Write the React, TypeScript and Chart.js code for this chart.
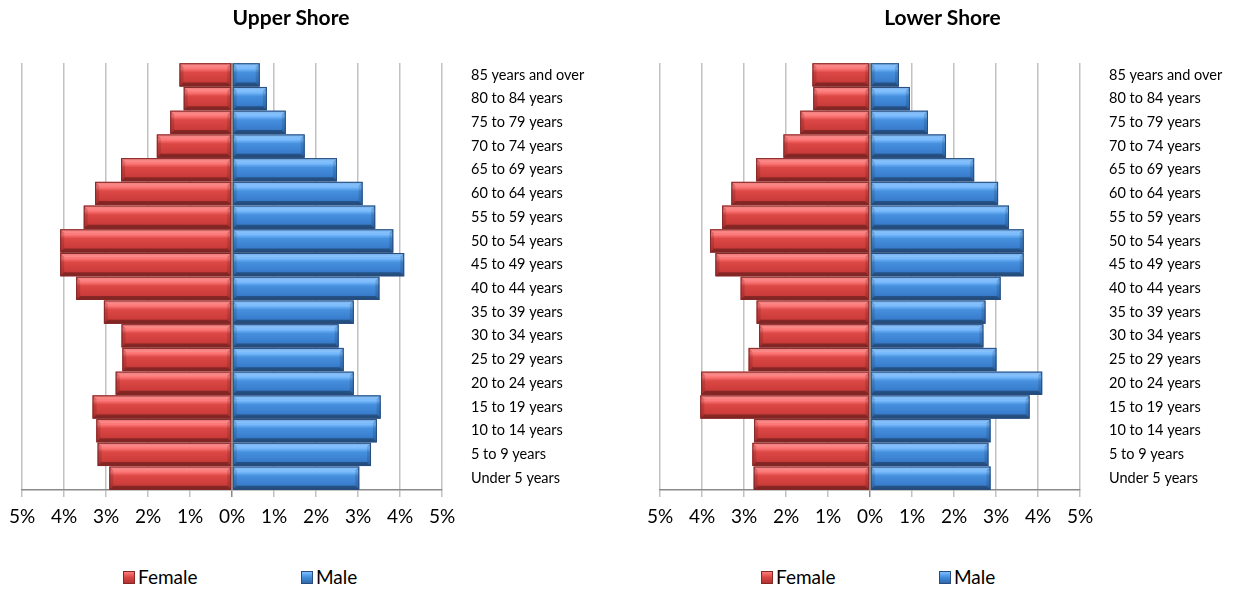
import React, { useEffect, useRef } from "react";
import { Chart, registerables } from "chart.js";

Chart.register(...registerables);

// ---- Data ----
const ageGroups = [
  "Under 5 years",
  "5 to 9 years",
  "10 to 14 years",
  "15 to 19 years",
  "20 to 24 years",
  "25 to 29 years",
  "30 to 34 years",
  "35 to 39 years",
  "40 to 44 years",
  "45 to 49 years",
  "50 to 54 years",
  "55 to 59 years",
  "60 to 64 years",
  "65 to 69 years",
  "70 to 74 years",
  "75 to 79 years",
  "80 to 84 years",
  "85 years and over",
];

const upperFemale = [2.92, 3.2, 3.23, 3.32, 2.77, 2.61, 2.63, 3.05, 3.71, 4.09, 4.09, 3.53, 3.26, 2.64, 1.79, 1.47, 1.15, 1.25];
const upperMale = [3.03, 3.31, 3.45, 3.54, 2.9, 2.66, 2.54, 2.9, 3.51, 4.1, 3.84, 3.41, 3.11, 2.5, 1.73, 1.28, 0.83, 0.66];

const lowerFemale = [2.77, 2.8, 2.76, 4.04, 4.02, 2.89, 2.64, 2.7, 3.08, 3.68, 3.81, 3.52, 3.3, 2.71, 2.06, 1.66, 1.35, 1.37];
const lowerMale = [2.87, 2.82, 2.87, 3.8, 4.1, 3.01, 2.7, 2.75, 3.11, 3.66, 3.66, 3.31, 3.05, 2.48, 1.81, 1.38, 0.95, 0.69];

const xTickLabels = ["5%", "4%", "3%", "2%", "1%", "0%", "1%", "2%", "3%", "4%", "5%"];
const seriesNames = ["Female", "Male"];
const chartTitles = ["Upper Shore", "Lower Shore"];

// ---- Styles ----
const FONT = "Lato, 'Open Sans', sans-serif";
const RED = {
  base: "#d43e3b",
  border: "#842828",
  stops: ["#ec6260", "#ff7b7b", "#dc4845", "#cd3d3b", "#b23230"],
};
const BLUE = {
  base: "#3f84d5",
  border: "#294d7c",
  stops: ["#5aa2ec", "#7dbeff", "#4690de", "#3a7fcf", "#2f68ac"],
};

const W = 595;
const H = 545;
const PLOT_LEFT = 22;
const PLOT_RIGHT = 442;
const PLOT_TOP = 63;
const PLOT_BOTTOM = 490;

const bevelPlugin = {
  id: "bevelBars",
  afterDatasetsDraw(chart: any) {
    const ctx = chart.ctx;
    chart.data.datasets.forEach((ds: any, di: number) => {
      const meta = chart.getDatasetMeta(di);
      const pal = di === 0 ? RED : BLUE;
      meta.data.forEach((el: any) => {
        const p = el.getProps(["x", "y", "base", "height"], true);
        const L = Math.min(p.x, p.base);
        const R = Math.max(p.x, p.base);
        const T = p.y - p.height / 2;
        const B = p.y + p.height / 2;
        if (R - L < 1) return;
        const g = ctx.createLinearGradient(0, T, 0, B);
        g.addColorStop(0, pal.stops[0]);
        g.addColorStop(0.22, pal.stops[1]);
        g.addColorStop(0.4, pal.stops[2]);
        g.addColorStop(0.75, pal.stops[3]);
        g.addColorStop(1, pal.stops[4]);
        ctx.save();
        ctx.fillStyle = g;
        ctx.fillRect(L, T, R - L, B - T);
        const b = Math.min(4, (R - L) / 2);
        ctx.fillStyle = "rgba(255,255,255,0.16)";
        ctx.beginPath();
        ctx.moveTo(L, T); ctx.lineTo(R, T); ctx.lineTo(R - b, T + b); ctx.lineTo(L + b, T + b); ctx.closePath();
        ctx.fill();
        ctx.fillStyle = "rgba(0,0,0,0.3)";
        ctx.beginPath();
        ctx.moveTo(L, B); ctx.lineTo(R, B); ctx.lineTo(R - b, B - b); ctx.lineTo(L + b, B - b); ctx.closePath();
        ctx.fill();
        ctx.fillStyle = "rgba(0,0,0,0.12)";
        ctx.beginPath();
        ctx.moveTo(L, T); ctx.lineTo(L + b, T + b); ctx.lineTo(L + b, B - b); ctx.lineTo(L, B); ctx.closePath();
        ctx.fill();
        ctx.beginPath();
        ctx.moveTo(R, T); ctx.lineTo(R - b, T + b); ctx.lineTo(R - b, B - b); ctx.lineTo(R, B); ctx.closePath();
        ctx.fill();
        ctx.strokeStyle = pal.border;
        ctx.lineWidth = 1;
        ctx.strokeRect(L + 0.5, T + 0.5, R - L - 1, B - T - 1);
        ctx.restore();
      });
    });
    const xs = chart.scales.x;
    const x0 = Math.round(xs.getPixelForValue(0));
    const a = chart.chartArea;
    ctx.save();
    ctx.strokeStyle = "#8a8a8a";
    ctx.lineWidth = 2;
    ctx.beginPath();
    ctx.moveTo(x0, a.top);
    ctx.lineTo(x0, a.bottom);
    ctx.stroke();
    ctx.restore();
  },
};

function Pyramid(props: { title: string; female: number[]; male: number[]; left: number; titleCenter: number }) {
  const ref = useRef<HTMLCanvasElement>(null);
  const { title, female, male, left, titleCenter } = props;

  useEffect(() => {
    if (!ref.current) return;
    const yWidth = W - PLOT_RIGHT;

    const chart = new Chart(ref.current, {
      type: "bar",
      data: {
        labels: ageGroups,
        datasets: [
          {
            label: seriesNames[0],
            data: female.map((v) => -v),
            backgroundColor: RED.base,
            borderColor: RED.border,
            borderWidth: 1,
            barPercentage: 0.98,
            categoryPercentage: 1,
          },
          {
            label: seriesNames[1],
            data: male,
            backgroundColor: BLUE.base,
            borderColor: BLUE.border,
            borderWidth: 1,
            barPercentage: 0.98,
            categoryPercentage: 1,
          },
        ],
      },
      options: {
        indexAxis: "y",
        responsive: false,
        animation: false,
        devicePixelRatio: 1,
        layout: { padding: { left: PLOT_LEFT, right: 0, top: PLOT_TOP, bottom: 0 } },
        plugins: {
          legend: { display: false },
          tooltip: { enabled: false },
          title: { display: false },
        },
        scales: {
          x: {
            type: "linear",
            min: -5,
            max: 5,
            stacked: true,
            ticks: {
              stepSize: 1,
              color: "#000",
              font: { family: FONT, size: 19 },
              padding: 8,
              maxRotation: 0,
              callback: (_v: any, i: number) => xTickLabels[i],
            },
            grid: {
              color: (c: any) => (c.tick && c.tick.value === 0 ? "#8a8a8a" : "#c2c2c2"),
              lineWidth: 1.5,
              tickLength: 7,
              drawTicks: true,
            },
            border: { display: true, color: "#8a8a8a", width: 1.5 },
            afterFit: (s: any) => {
              s.height = H - PLOT_BOTTOM;
            },
          },
          y: {
            type: "category",
            position: "right",
            reverse: true,
            stacked: true,
            grid: { display: false },
            border: { display: false },
            ticks: {
              color: "#000",
              font: { family: FONT, size: 14.5 },
              padding: 21,
              autoSkip: false,
              crossAlign: "near",
            },
            afterFit: (s: any) => {
              s.width = yWidth;
            },
          },
        },
      },
      plugins: [bevelPlugin],
    } as any);
    return () => chart.destroy();
  }, [female, male]);

  const legendText: React.CSSProperties = {
    position: "absolute",
    top: 565,
    height: 24,
    lineHeight: "24px",
    fontFamily: FONT,
    fontSize: 19,
    color: "#000",
    whiteSpace: "nowrap",
  };
  const box = (c: typeof RED, x: number): React.CSSProperties => ({
    position: "absolute",
    left: x,
    top: 571,
    width: 12,
    height: 13,
    boxSizing: "border-box",
    border: `1px solid ${c.border}`,
    background: `linear-gradient(to bottom, ${c.stops[1]}, ${c.stops[2]} 45%, ${c.stops[4]})`,
  });

  return (
    <div style={{ position: "absolute", left, top: 0, width: W, height: 592 }}>
      <canvas ref={ref} width={W} height={H} style={{ position: "absolute", left: 0, top: 0, width: W, height: H }} />
      <div
        style={{
          position: "absolute",
          left: titleCenter - 150,
          width: 300,
          top: 4,
          height: 26,
          lineHeight: "26px",
          textAlign: "center",
          fontFamily: FONT,
          fontWeight: "bold",
          fontSize: 21,
          color: "#000",
        }}
      >
        {title}
      </div>
      <div style={box(RED, 123)} />
      <div style={{ ...legendText, left: 138 }}>{seriesNames[0]}</div>
      <div style={box(BLUE, 301)} />
      <div style={{ ...legendText, left: 316 }}>{seriesNames[1]}</div>
    </div>
  );
}

export default function App() {
  return (
    <div style={{ position: "absolute", left: 0, top: 0, width: 1233, height: 592, overflow: "hidden", background: "#fff" }}>
      <Pyramid title={chartTitles[0]} female={upperFemale} male={upperMale} left={0} titleCenter={291} />
      <Pyramid title={chartTitles[1]} female={lowerFemale} male={lowerMale} left={638} titleCenter={304.5} />
    </div>
  );
}
